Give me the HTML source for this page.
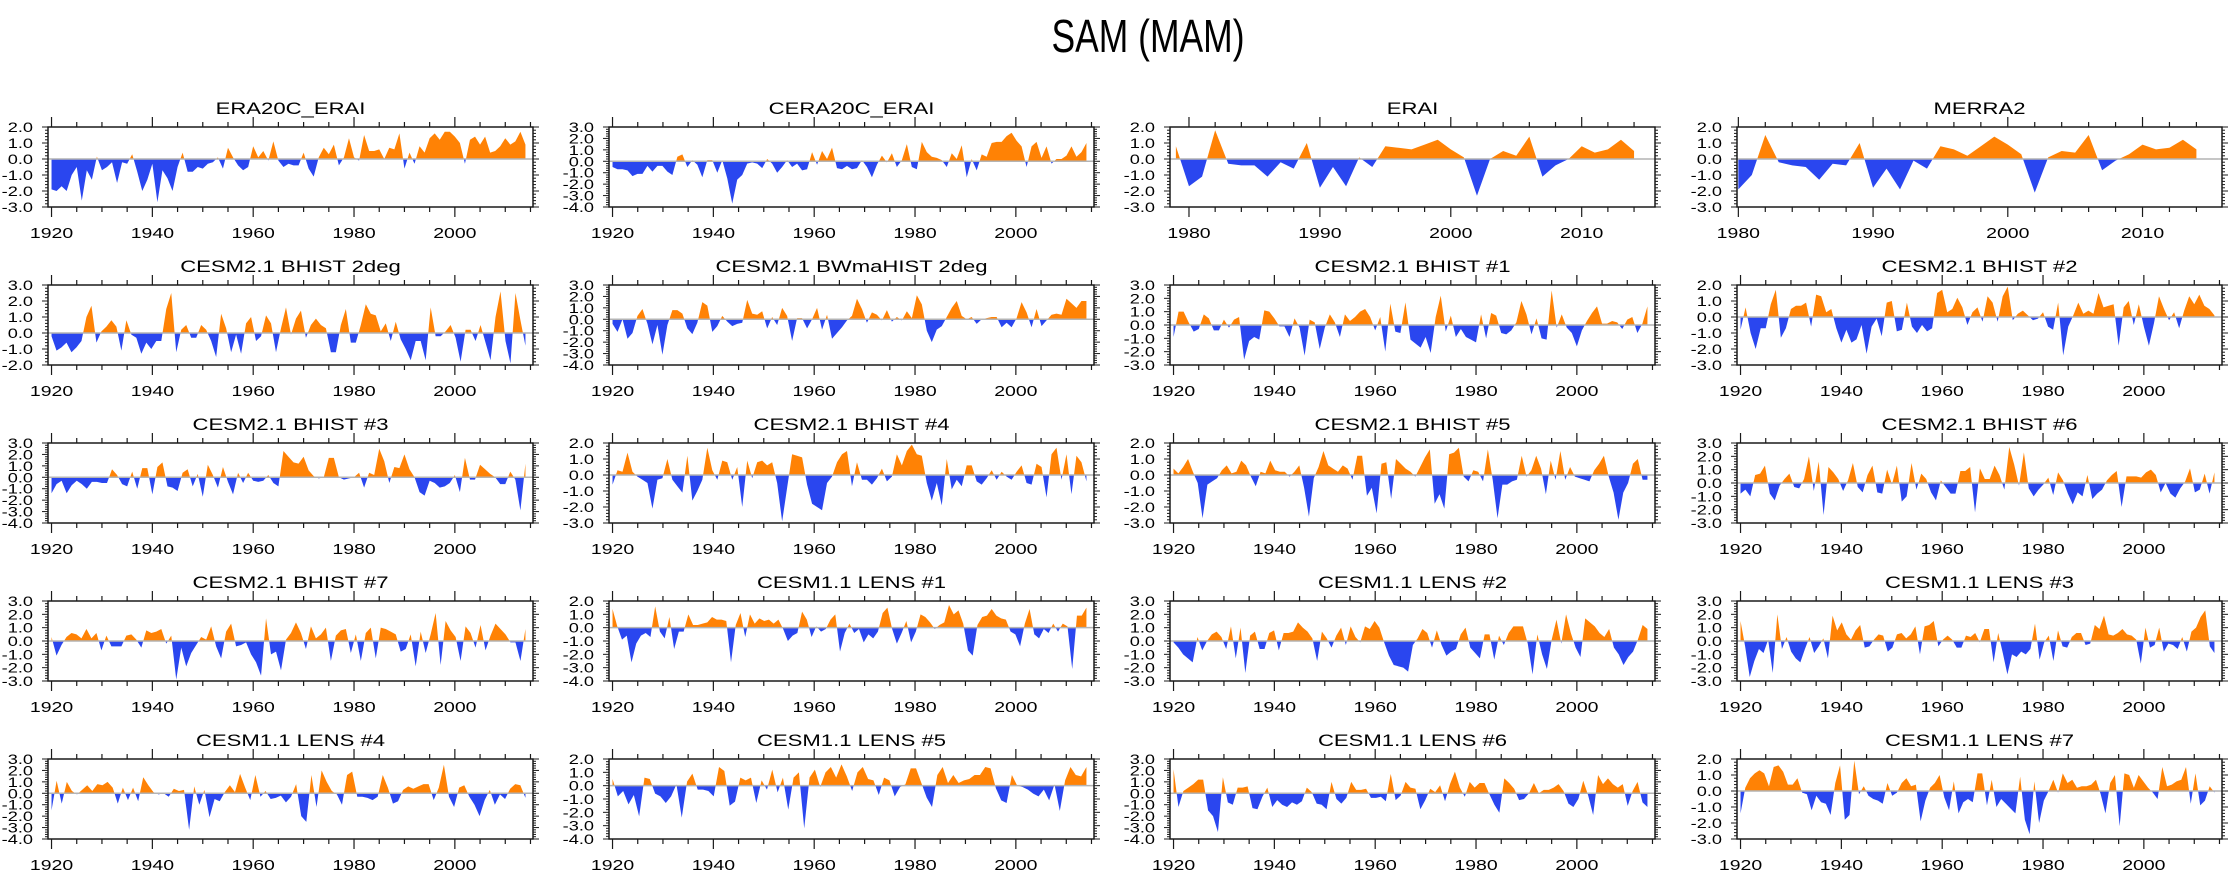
<!DOCTYPE html>
<html><head><meta charset="utf-8"><title>SAM (MAM)</title>
<style>
html,body{margin:0;padding:0;background:#fff;}
svg{display:block;font-family:"Liberation Sans",Arial,sans-serif;}
</style></head>
<body>
<svg id="chart" width="2238" height="877" viewBox="0 0 2238 877" xmlns="http://www.w3.org/2000/svg">
<rect x="0" y="0" width="2238" height="877" fill="#fff"/>
<text x="1148" y="52" font-size="46" text-anchor="middle" textLength="193" lengthAdjust="spacingAndGlyphs" fill="#000">SAM (MAM)</text>
</svg>
<script>
// ---- chart data ----
const titles = ["ERA20C_ERAI","CERA20C_ERAI","ERAI","MERRA2",
"CESM2.1 BHIST 2deg","CESM2.1 BWmaHIST 2deg","CESM2.1 BHIST #1","CESM2.1 BHIST #2",
"CESM2.1 BHIST #3","CESM2.1 BHIST #4","CESM2.1 BHIST #5","CESM2.1 BHIST #6",
"CESM2.1 BHIST #7","CESM1.1 LENS #1","CESM1.1 LENS #2","CESM1.1 LENS #3",
"CESM1.1 LENS #4","CESM1.1 LENS #5","CESM1.1 LENS #6","CESM1.1 LENS #7"];
const yMaxes = [2,3,2,2, 3,3,3,2, 3,2,2,3, 3,2,3,3, 3,2,3,2];
const yMins  = [-3,-4,-3,-3, -2,-4,-3,-3, -4,-3,-3,-3, -3,-4,-3,-3, -4,-4,-4,-3];
const startYears = [1920,1920,1979,1980, 1920,1920,1920,1920, 1920,1920,1920,1920, 1920,1920,1920,1920, 1920,1920,1920,1920];
const endYears = [2014,2014,2014,2014, 2014,2014,2014,2014, 2014,2014,2014,2014, 2014,2014,2014,2014, 2014,2014,2014,2014];

const era20c = [-1.9,-2.0,-1.7,-2.0,-1.0,-0.5,-2.6,-0.7,-1.3,0.15,-0.7,-0.5,-0.2,-1.5,-0.2,-0.3,0.3,-0.8,-2.0,-1.3,-0.3,-2.7,-0.7,-1.2,-2.0,-0.5,0.4,-0.8,-0.8,-0.5,-0.6,-0.3,-0.2,0.1,-0.6,0.7,0.1,-0.4,-0.7,-0.5,0.8,0.1,0.5,-0.1,1.1,-0.1,-0.5,-0.3,-0.4,-0.4,0.4,-0.6,-1.1,0.1,0.7,0.3,0.9,-0.4,0.1,1.3,0.1,-0.1,1.5,0.5,0.5,0.6,0.0,0.7,0.6,1.6,-0.6,0.4,-0.3,0.8,0.4,1.3,1.6,1.2,1.7,1.7,1.4,1.0,-0.3,1.2,1.4,0.9,1.4,0.4,0.5,0.8,1.3,0.9,1.1,1.7,0.9];
const cera20c = [-0.5,-0.7,-0.7,-0.8,-1.3,-1.1,-1.1,-0.4,-0.9,-0.4,-0.4,-0.9,-1.2,0.4,0.6,-0.5,0.1,-0.3,-1.4,0.1,0.1,-1.0,0.1,-1.5,-3.7,-1.6,-1.2,-0.2,-0.1,-0.2,-0.6,0.2,-0.2,-1.0,-0.5,0.1,-0.5,-0.2,-0.8,-0.7,0.8,-0.3,0.9,0.2,1.2,-0.6,-0.7,-0.4,-0.7,-0.6,0.1,-0.5,-1.4,-0.3,0.5,-0.1,0.7,-0.5,0.1,1.5,-0.5,-0.7,1.7,0.8,0.4,0.3,0.1,-0.5,0.7,0.2,1.4,-1.4,0.2,-0.8,0.6,0.4,1.6,1.7,1.7,2.2,2.5,1.8,1.3,-0.5,1.3,1.7,0.3,1.3,-0.2,0.2,0.2,0.5,1.3,0.4,0.8,1.6];
const erai = [0.8,-1.7,-1.1,1.8,-0.3,-0.4,-0.4,-1.1,-0.2,-0.6,1.0,-1.8,-0.5,-1.7,0.1,-0.5,0.8,0.7,0.6,0.9,1.2,0.6,0.1,-2.3,0.0,0.5,0.2,1.4,-1.1,-0.4,0.0,0.8,0.4,0.6,1.2,0.5];
const merra2 = [-1.9,-1.0,1.5,-0.2,-0.4,-0.5,-1.3,-0.3,-0.4,1.0,-1.8,-0.6,-1.9,-0.1,-0.6,0.8,0.6,0.2,0.8,1.4,0.9,0.3,-2.1,0.1,0.5,0.4,1.5,-0.7,-0.1,0.3,0.9,0.6,0.7,1.2,0.6];
const bhist2deg = [-0.2,-1.1,-0.9,-0.6,-1.2,-0.9,-0.5,1.0,1.7,-0.6,0.1,0.4,0.8,0.4,-1.1,0.8,-0.1,-0.3,-1.3,-0.6,-1.0,-0.5,-0.5,1.5,2.5,-1.2,0.2,0.5,-0.3,-0.3,0.5,0.2,-0.5,-1.5,1.2,0.3,-1.2,-0.1,-1.3,0.6,1.0,-0.5,-0.2,1.1,0.6,-1.2,0.3,1.6,-0.1,0.9,1.4,-0.3,0.5,0.9,0.5,0.3,-1.2,-1.2,0.5,1.5,-0.6,-0.6,0.5,1.8,1.2,1.1,0.1,0.6,-0.5,0.7,-0.4,-1.0,-1.7,-0.5,-0.5,-1.7,1.6,-0.2,-0.2,0.1,0.5,-0.3,-1.8,0.2,0.2,-0.5,0.5,-0.6,-1.7,1.0,2.6,-0.5,-1.9,2.5,0.8,-0.8];
const bwmahist = [-0.4,-1.1,0.0,-1.7,-1.2,0.3,0.9,-0.4,-2.2,-0.5,-3.1,-0.5,0.8,0.8,0.5,-0.8,-1.3,-0.3,1.5,1.2,-1.1,-0.6,0.3,-0.2,-0.6,-0.4,-0.3,1.7,0.5,0.4,0.7,-0.8,0.2,-0.5,1.0,0.3,-1.9,0.1,0.1,-0.8,0.0,1.0,-0.9,0.4,-1.7,-1.2,-0.7,-0.1,0.3,1.8,0.9,-0.3,0.6,0.4,-0.1,0.8,-0.2,0.2,-0.1,0.7,0.1,2.1,1.3,-1.0,-2.0,-0.9,-0.6,0.2,1.0,1.6,0.3,0.0,0.2,-0.4,0.0,0.1,0.2,0.2,-0.7,-0.3,-0.7,0.1,1.5,0.6,-0.7,0.9,-0.6,-0.1,0.4,0.5,0.4,1.8,1.4,1.0,1.6,1.6];
const bhist1 = [-0.9,1.0,1.0,0.2,-0.5,-0.3,0.8,0.5,-0.4,-0.4,0.4,-0.2,0.4,0.6,-2.6,-1.2,-0.9,-1.1,1.1,1.0,0.5,-0.1,-0.1,-0.9,0.5,-0.2,-2.3,0.4,0.2,-1.8,-0.2,0.8,0.2,-0.9,0.8,0.3,0.6,1.0,1.2,0.6,-0.4,0.6,-2.0,1.6,-0.5,-0.6,1.7,-1.1,-1.4,-1.7,-0.9,-2.1,0.6,2.2,-0.5,0.7,-0.9,-0.3,-0.9,-1.1,-1.3,0.8,-1.0,0.9,0.7,-0.6,-0.7,-0.4,0.2,1.8,0.8,-0.7,0.5,-1.0,-1.1,2.6,-0.2,0.8,-0.2,-0.6,-1.6,-0.4,0.3,0.9,1.4,0.1,0.1,0.3,0.2,-0.3,0.4,0.6,-0.6,0.1,1.4];
const bhist2 = [-0.8,0.6,-1.0,-2.0,-0.7,-0.7,0.8,1.7,-1.3,-0.7,0.5,0.7,0.7,0.9,-0.6,1.4,1.3,0.3,0.5,-0.7,-1.6,-0.8,-1.6,-1.4,-0.5,-2.3,-0.6,-0.1,-1.2,0.9,1.0,-0.9,-0.8,0.9,-0.6,-1.0,-0.5,-0.9,-0.7,1.5,1.7,0.3,0.5,1.2,0.6,-0.5,0.3,0.6,-0.3,1.3,0.9,-0.3,1.3,1.9,-0.2,0.2,0.4,0.1,-0.2,-0.1,0.3,-0.6,-0.8,0.9,-2.4,-0.6,0.1,0.9,0.2,0.4,0.2,1.5,0.6,0.7,0.8,-1.8,0.6,1.0,-0.5,0.8,-0.6,-1.8,-0.4,1.3,0.5,-0.2,0.3,-0.7,0.4,1.3,0.8,1.4,0.7,0.5,0.1];
const bhist3 = [-1.4,-0.6,-0.3,-1.4,-0.7,-0.3,-0.6,-1.0,-0.4,-0.4,-0.5,-0.5,0.7,0.2,-0.6,-0.8,0.5,-1.0,0.8,0.8,-1.5,0.9,1.3,-0.8,-0.9,-1.2,0.4,0.7,-0.8,0.3,-1.7,1.1,0.2,-0.9,0.9,-0.4,-1.5,0.4,-0.5,0.4,-0.3,-0.4,-0.3,0.2,-0.5,-0.8,2.3,1.8,1.3,1.2,1.8,0.6,0.1,-0.1,0.0,1.7,1.7,0.0,-0.2,-0.1,0.0,0.4,-0.9,0.4,0.2,2.5,1.4,-0.5,0.9,0.8,2.0,0.7,0.0,-1.3,-1.6,-0.3,-0.5,-0.9,-0.8,-0.5,0.2,-1.3,1.7,-0.2,-0.2,1.1,0.7,0.3,0.0,-0.6,-0.6,0.5,-0.2,-2.9,1.2];
const bhist4 = [-0.6,0.3,0.2,1.4,0.2,-0.1,-0.3,-0.5,-2.1,-0.3,-0.2,1.0,-0.3,-0.7,-1.1,1.2,-1.6,-1.0,-0.3,1.7,0.3,-0.3,0.9,0.8,-0.3,0.5,-2.0,0.9,-0.2,0.8,0.9,0.6,0.8,-0.5,-2.9,-0.8,1.3,1.2,1.1,-0.6,-1.8,-2.0,-2.2,-0.5,-0.1,0.8,1.3,1.5,-0.7,0.8,-0.3,-0.3,-0.6,-0.2,0.4,-0.4,-0.1,1.3,0.6,1.5,1.9,1.3,1.2,-0.5,-1.6,-0.5,-1.9,1.0,-0.9,-0.3,-0.7,0.6,0.6,-0.4,-0.6,-0.2,0.3,-0.3,0.2,-0.1,-0.3,0.2,0.6,-0.5,-0.6,0.7,0.5,-1.4,1.3,1.7,-0.3,1.3,-1.2,1.2,0.8,-0.4];
const bhist5 = [0.4,0.1,0.5,1.0,0.2,-0.5,-2.7,-0.6,-0.4,-0.2,0.3,0.6,0.1,0.2,0.9,0.6,-0.1,-0.7,0.2,0.1,0.9,0.3,0.2,0.2,-0.1,0.2,0.6,-0.8,-2.6,-0.2,0.5,1.5,0.6,0.4,0.2,0.6,0.4,-0.3,1.2,1.2,-1.3,-0.8,-2.4,0.7,0.8,-1.5,1.0,0.7,0.4,0.2,-0.1,0.5,1.1,1.6,-1.8,-1.2,-2.1,1.3,1.4,1.7,-0.1,-0.4,0.3,0.2,-0.4,1.6,-0.3,-2.7,-0.6,-0.6,-0.4,-0.3,1.2,-0.1,0.3,1.2,0.4,-1.2,0.9,-0.3,1.5,-0.3,0.5,-0.1,-0.2,-0.3,-0.4,0.3,0.7,1.2,-0.1,-1.1,-2.8,-1.1,-0.5,0.7,1.0,-0.3,-0.3];
const bhist6 = [-0.8,-0.5,-1.0,0.6,0.7,1.3,-0.8,-1.3,-0.2,0.3,0.7,-0.3,-0.4,0.3,2.0,-0.6,1.6,-2.4,1.2,0.8,0.3,-0.6,0.2,1.5,-0.3,-0.7,0.6,1.3,-0.7,-0.8,1.0,-0.1,1.3,-1.4,-1.0,1.5,-0.5,0.7,0.3,-0.7,-1.3,0.2,-0.3,-0.8,-0.8,0.9,0.9,1.2,-2.2,1.1,0.3,0.3,1.3,0.6,-0.5,2.7,1.4,-0.2,2.3,-0.4,-1.0,-0.5,-0.1,0.4,-0.9,0.8,0.2,-0.8,-1.6,-0.7,-1.0,0.6,-1.2,-0.8,-0.5,0.2,0.6,0.9,-1.8,0.5,0.5,0.5,0.4,0.8,1.0,0.6,-0.7,0.0,-0.8,-1.1,-0.4,0.1,1.1,-0.7,-0.5,0.7,-0.8,0.8];
const bhist7 = [0.3,-1.1,-0.3,0.3,0.6,0.5,0.2,0.9,0.2,0.6,-0.7,0.4,-0.4,-0.4,-0.4,0.4,0.5,0.1,-0.5,0.8,0.6,0.7,0.9,-0.2,0.4,-2.9,-0.5,-1.9,-0.9,-0.3,0.3,0.1,1.1,-0.4,-1.3,0.7,1.3,-0.4,-0.3,-0.1,-1.0,-1.6,-2.6,1.7,-1.0,-0.8,-2.2,0.1,0.6,1.4,0.6,-0.6,1.1,0.2,0.5,1.0,-1.5,0.4,0.8,0.9,-0.9,0.5,-1.5,0.6,1.0,-1.3,1.0,0.9,0.7,0.5,-0.8,-0.6,0.5,-1.9,0.7,-0.9,0.5,2.1,-1.8,1.5,0.8,0.3,-1.5,1.1,0.6,-0.5,1.2,-0.7,0.4,1.3,0.9,0.5,-0.1,-0.1,-1.5,0.9];
const lens1 = [1.4,0.1,-0.9,-0.6,-2.6,-1.2,-0.6,-0.4,-0.7,1.6,-0.3,-0.8,0.8,-1.6,-0.3,-0.3,1.0,0.2,0.2,0.3,0.4,0.8,0.6,0.6,0.5,-2.6,0.2,1.1,-0.7,1.0,0.3,0.7,0.5,0.6,0.3,0.6,-0.1,-1.0,-0.6,-0.4,1.2,0.6,-0.7,0.1,-0.3,-0.1,0.6,1.0,-1.8,-0.4,0.3,-0.4,-0.1,-1.1,-0.5,-0.8,-0.3,1.1,1.5,-0.1,-1.2,-0.4,0.5,-1.1,-0.3,1.0,0.8,0.4,-0.1,0.2,0.4,1.7,1.0,1.3,0.3,-1.7,-2.1,0.2,0.8,0.9,1.4,0.9,0.7,0.6,-0.3,-0.5,-1.4,0.3,1.4,-0.5,-0.8,-0.1,-0.4,0.3,-0.3,0.3,0.1,-3.1,0.9,0.9,1.5];
const lens2 = [-0.1,-0.5,-1.0,-1.3,-1.6,0.3,-0.7,0.0,0.5,0.7,0.3,-0.6,1.1,-1.3,1.0,-2.4,0.4,0.7,-0.6,-0.6,0.6,0.8,-0.7,0.6,0.6,0.7,1.4,1.0,0.7,0.2,-1.5,0.7,0.2,-0.5,0.4,1.0,-0.3,1.1,0.3,-0.1,1.1,0.9,1.5,1.0,-0.1,-1.1,-1.8,-1.9,-2.0,-2.3,-0.3,0.2,0.9,0.6,-0.5,0.8,-0.3,-1.1,-0.8,-0.6,0.5,1.0,-0.5,-0.9,-1.3,0.5,0.5,-1.4,0.4,-0.3,0.6,1.1,1.1,1.1,-0.2,-2.5,0.5,-1.0,-2.1,0.1,1.6,-0.2,2.0,0.6,-0.5,-1.2,1.7,1.4,1.1,0.6,0.3,0.9,-0.5,-1.0,-1.8,-1.2,-0.8,0.1,1.2,0.9];
const lens3 = [1.5,-0.4,-2.7,-1.5,-0.6,-0.9,0.1,-2.4,2.0,-0.6,0.3,-0.8,-1.3,-1.6,-0.6,0.3,-0.9,-0.4,0.2,-1.3,1.9,0.8,1.4,0.5,0.1,0.8,1.2,-0.5,-0.4,0.1,0.5,0.4,-0.8,-0.5,0.5,0.6,0.2,0.5,1.1,-1.0,1.1,1.2,1.5,-0.4,0.1,0.4,0.1,-0.5,-0.5,0.4,0.3,0.6,-0.1,0.9,0.9,-1.6,0.6,-0.9,-2.5,-1.0,-1.2,-0.8,-1.0,-0.6,1.3,-1.4,-0.1,0.4,-1.5,0.8,-0.4,-0.5,0.3,0.6,0.6,-0.3,-0.2,1.2,0.9,1.9,0.5,0.4,0.6,0.9,0.5,0.4,0.1,-1.7,1.0,-0.5,-0.3,1.0,-0.8,-0.2,-0.3,-0.6,0.3,-0.8,0.7,1.0,1.8,2.3,-0.4,-0.9];
const lens4 = [-1.5,1.1,-0.9,1.0,0.2,-0.1,0.3,0.7,0.2,0.8,0.7,1.0,0.5,-0.9,0.5,-0.6,0.5,-0.7,1.4,0.7,0.1,-0.1,0.0,-0.3,0.4,0.2,0.3,-3.2,0.6,-1.0,0.3,-2.1,-0.5,-0.7,0.1,0.7,0.1,1.7,0.5,-0.6,1.6,-0.3,0.2,-0.5,-0.4,-0.2,-0.8,-0.3,0.8,-2.0,-2.5,1.6,-1.2,2.0,1.0,0.2,-0.1,-1.0,1.6,1.9,-0.3,-0.3,-0.4,-0.6,-0.3,1.6,0.5,-0.9,-0.7,0.3,0.6,0.4,0.6,0.8,0.8,-0.6,0.5,2.5,-0.3,-1.2,0.5,0.7,-0.3,-1.0,-2.0,-0.6,0.3,-1.0,-0.1,-0.5,0.4,0.8,0.7,-0.4];
const lens5 = [0.5,-0.8,-0.4,-1.4,-0.7,-2.3,0.6,0.5,-0.6,-0.8,-1.3,-0.8,0.1,-2.4,0.3,0.9,-0.3,-0.3,-0.4,-0.8,1.4,1.1,-1.5,-1.2,0.6,0.4,0.6,-1.3,0.4,-0.3,1.2,-0.5,0.6,-1.8,0.6,1.0,-3.2,0.6,1.2,-0.1,1.0,1.4,0.6,1.6,0.7,-0.4,1.0,1.4,0.5,0.4,-0.7,0.6,0.4,-0.8,-0.1,0.1,1.3,1.3,0.2,-0.9,-1.6,0.8,1.4,0.2,0.8,0.2,0.4,0.5,0.8,0.8,1.4,1.3,-0.2,-1.1,-1.3,0.8,0.0,-0.1,-0.3,-0.6,-0.8,-0.3,-1.1,0.1,-1.9,0.4,1.4,0.8,0.7,1.4];
const lens6 = [2.1,-1.2,0.2,0.5,0.8,1.2,1.2,-1.5,-2.0,-3.4,1.4,-0.8,-1.0,0.5,0.5,0.6,-1.3,-1.4,-0.3,0.5,-1.2,-0.6,-1.0,-1.2,-0.8,-1.0,-0.7,0.5,0.1,-0.9,-1.0,-1.4,1.0,-0.5,-0.9,-0.4,1.0,0.3,0.3,0.4,-0.4,-0.4,-0.3,-0.7,1.7,-0.6,-0.2,1.0,0.5,0.4,-1.4,-0.6,0.4,0.1,0.7,-0.7,0.8,1.9,0.5,-0.3,1.0,0.5,0.9,0.9,-0.1,-1.0,-1.7,1.3,0.9,0.4,-0.6,-0.5,0.0,0.9,0.0,0.3,0.3,0.5,0.8,0.2,-0.9,-1.2,-0.5,1.1,-0.2,-1.9,1.6,0.8,1.3,0.8,0.5,0.8,-1.1,0.2,1.0,-0.8,-1.2];
const lens7 = [-1.4,0.2,0.8,1.1,1.3,1.1,0.3,1.5,1.6,1.2,0.4,0.4,0.8,-0.1,-0.2,-1.2,-0.3,-0.7,-0.8,-1.5,0.5,1.6,-1.8,-1.5,1.9,-0.2,0.3,-0.3,-0.5,-0.6,-0.8,0.5,-0.3,-0.1,0.5,0.8,0.3,0.4,-1.9,-0.6,0.2,0.5,1.0,-0.4,-1.2,0.6,-1.4,-0.7,-0.5,-0.7,1.1,1.1,-0.9,0.7,-1.0,-0.5,-0.8,-1.1,-1.4,0.9,-1.8,-2.7,0.6,-2.0,-0.6,0.0,0.7,-0.1,1.1,0.5,0.7,0.2,0.3,0.3,0.4,0.7,-0.2,-1.4,0.5,1.0,-2.2,1.1,1.0,0.2,1.0,0.6,0.2,-0.1,-0.5,1.5,0.3,0.4,0.6,0.7,1.5,-0.8,1.1,-0.9,-0.6,0.3,-0.1];

const seriesList = [era20c,cera20c,erai,merra2, bhist2deg,bwmahist,bhist1,bhist2, bhist3,bhist4,bhist5,bhist6, bhist7,lens1,lens2,lens3, lens4,lens5,lens6,lens7];

// ---- layout ----
const NS = "http://www.w3.org/2000/svg";
const svg = document.getElementById("chart");
const colLeft = [48, 609, 1170, 1737];
const rowTop = [127, 285, 443, 601, 759];
const PW = 485, PH = 80;
const ORANGE = "#ff8205", BLUE = "#2a46ef";

function mk(tag, attrs, parent) {
  const e = document.createElementNS(NS, tag);
  for (const k in attrs) e.setAttribute(k, attrs[k]);
  (parent || svg).appendChild(e);
  return e;
}
function stretchedText(parent, x, y, size, sxScale, anchor, str) {
  const t = mk("text", {x: 0, y: 0, "font-size": size, "text-anchor": anchor, fill: "#000", stroke: "none",
    transform: "translate(" + x + "," + y + ") scale(" + sxScale + ",1)"}, parent);
  t.textContent = str;
  return t;
}

for (let p = 0; p < 20; p++) {
  const r = Math.floor(p / 4), c = p % 4;
  const L = colLeft[c], T = rowTop[r], R = L + PW, B = T + PH;
  const data = seriesList[p];
  const y0 = startYears[p], y1 = endYears[p];
  let xmin, xmax, majStep, minStep;
  if (y0 === 1979) { xmin = 1978.55; xmax = 2015.6; majStep = 10; minStep = 2; }
  else if (y0 === 1980) { xmin = 1979.9; xmax = 2015.9; majStep = 10; minStep = 2; }
  else { xmin = 1919.3; xmax = 2015.5; majStep = 20; minStep = 5; }
  const ymax = yMaxes[p], ymin = yMins[p];
  const sx = v => L + (v - xmin) / (xmax - xmin) * PW;
  const sy = v => T + (ymax - v) / (ymax - ymin) * PH;

  const g = mk("g", {});
  
  

  const ttl = stretchedText(g, L + PW / 2, T - 13, 17, 1.3, "middle", titles[p]);
  
  

  const cid = "c" + p;
  const defs = mk("defs", {}, g);
  const cpA = mk("clipPath", {id: cid + "a"}, defs);
  mk("rect", {x: L, y: T, width: PW, height: sy(0) - T}, cpA);
  const cpB = mk("clipPath", {id: cid + "b"}, defs);
  mk("rect", {x: L, y: sy(0), width: PW, height: B - sy(0)}, cpB);

  const n = data.length;
  let d = "M" + sx(y0).toFixed(2) + "," + sy(0).toFixed(2);
  for (let i = 0; i < n; i++) {
    const yr = y0 + i * (y1 - y0) / (n - 1);
    d += " L" + sx(yr).toFixed(2) + "," + sy(data[i]).toFixed(2);
  }
  d += " L" + sx(y1).toFixed(2) + "," + sy(0).toFixed(2) + " Z";
  const pos = mk("path", {d: d, fill: ORANGE, "clip-path": "url(#" + cid + "a)"}, g);
  
  
  const neg = mk("path", {d: d, fill: BLUE, "clip-path": "url(#" + cid + "b)"}, g);
  
  

  const zl = mk("line", {x1: L, x2: R, y1: sy(0), y2: sy(0), stroke: "#b4b4b4", "stroke-width": 1.5}, g);
  
  

  const fr = mk("rect", {x: L, y: T, width: PW, height: PH, fill: "none", stroke: "#1a1a1a", "stroke-width": 1.5}, g);
  
  

  const ax = mk("g", {stroke: "#1a1a1a", "stroke-width": 1.2}, g);
  
  
  for (let yr = Math.ceil(xmin / minStep) * minStep; yr <= xmax; yr += minStep) {
    const x = sx(yr);
    const major = yr % majStep === 0;
    const len = major ? 10 : 5;
    mk("line", {x1: x, x2: x, y1: T, y2: T - len}, ax);
    mk("line", {x1: x, x2: x, y1: B, y2: B + len}, ax);
    if (major) {
      const tl = stretchedText(g, x, B + 31, 15, 1.3, "middle", String(yr));
      
      
    }
  }
  const ay = mk("g", {stroke: "#1a1a1a", "stroke-width": 1}, g);
  
  
  for (let k = Math.round(ymin * 5); k <= Math.round(ymax * 5); k++) {
    const v = k / 5, y = sy(v);
    const major = k % 5 === 0;
    const len = major ? 6 : 3;
    mk("line", {x1: L, x2: L - len, y1: y, y2: y}, ay);
    mk("line", {x1: R, x2: R + len, y1: y, y2: y}, ay);
    if (major) {
      const yl = stretchedText(g, L - 15, y + 5, 14, 1.3, "end", v.toFixed(1));
      
      
    }
  }
}
</script>
</body></html>
